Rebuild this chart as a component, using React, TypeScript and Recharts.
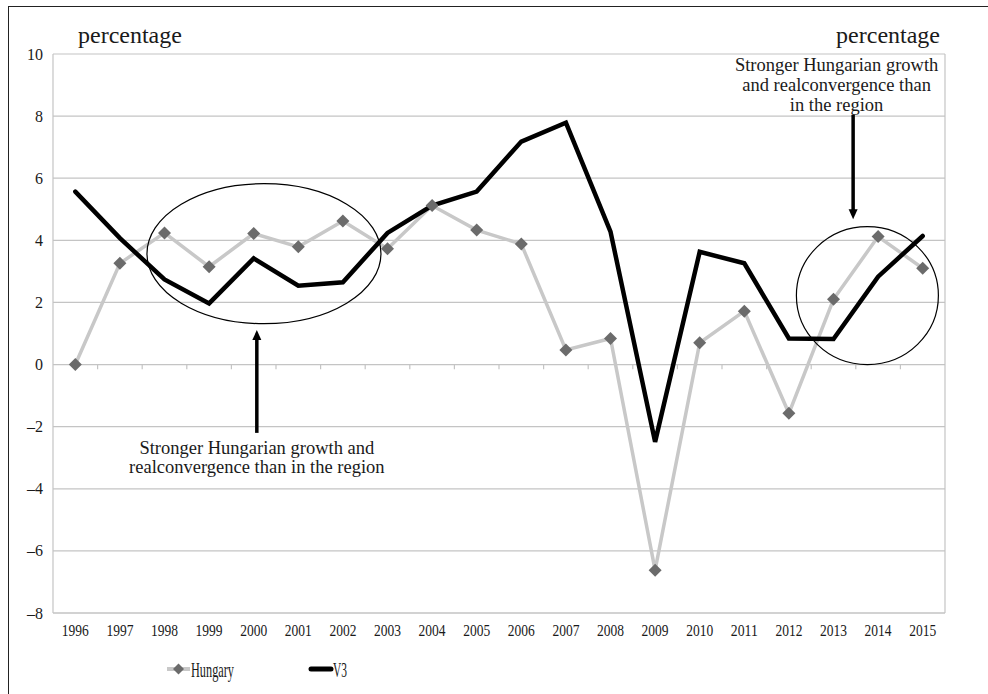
import React from 'react';
import {
  LineChart,
  Line,
  XAxis,
  YAxis,
  CartesianGrid,
  Legend,
  ReferenceDot,
  ReferenceLine,
} from 'recharts';

// ---- data ----
const years = [1996, 1997, 1998, 1999, 2000, 2001, 2002, 2003, 2004, 2005, 2006, 2007, 2008, 2009, 2010, 2011, 2012, 2013, 2014, 2015];
const hungary = [0, 3.26, 4.24, 3.15, 4.22, 3.79, 4.62, 3.73, 5.12, 4.33, 3.88, 0.47, 0.84, -6.62, 0.7, 1.72, -1.57, 2.1, 4.12, 3.1];
const v3 = [5.57, 4.07, 2.74, 1.97, 3.42, 2.54, 2.65, 4.24, 5.12, 5.57, 7.18, 7.79, 4.28, -2.49, 3.63, 3.26, 0.84, 0.82, 2.83, 4.14];
const yTicks = [-8, -6, -4, -2, 0, 2, 4, 6, 8, 10];
const seriesNames = ['Hungary', 'V3'];
const unitLabel = 'percentage';
const note1 = ['Stronger Hungarian growth and', 'realconvergence than in the region'];
const note2 = ['Stronger Hungarian growth', 'and realconvergence than', 'in the region'];
const boundaries = years.slice(0, -1).map((y) => y + 0.5);

const data = years.map((year, i) => ({ year, Hungary: hungary[i], V3: v3[i] }));

const FONT = '"Liberation Serif", "Times New Roman", serif';
const TEXT = '#1a1a1a';
const GRID = '#c4c4c4';
const HUN_LINE = '#c8c8c8';
const HUN_MARK = '#6b6b6b';

const fmt = (v: number) => (v < 0 ? '\u2013' + Math.abs(v) : String(v));

const LeftTick = (props: any) => {
  const { x, y, payload } = props;
  return (
    <text x={x} y={y} dy="0.35em" textAnchor="end" fontFamily={FONT} fontSize={16} fill={TEXT}>
      {fmt(payload.value)}
    </text>
  );
};

const RightTick = (props: any) => {
  const { x, y, payload } = props;
  return (
    <text x={x + 23} y={y} dy="0.35em" textAnchor="end" fontFamily={FONT} fontSize={16} fill={TEXT}>
      {fmt(payload.value)}
    </text>
  );
};

const YearTick = (props: any) => {
  const { x, y, payload } = props;
  return (
    <text
      x={x}
      y={y + 23}
      textAnchor="middle"
      fontFamily={FONT}
      fontSize={16.5}
      fill={TEXT}
      textLength={27}
      lengthAdjust="spacingAndGlyphs"
    >
      {payload.value}
    </text>
  );
};

const Diamond = (props: any) => {
  const { cx, cy } = props;
  if (cx == null || cy == null) return null;
  const s = 6.5;
  return (
    <polygon
      key={`d-${cx}`}
      points={`${cx},${cy - s} ${cx + s},${cy} ${cx},${cy + s} ${cx - s},${cy}`}
      fill={HUN_MARK}
    />
  );
};

const Arrow = (props: any) => {
  const { x1, y1, x2, y2 } = props;
  const dir = Math.sign(y2 - y1) || 1;
  return (
    <g>
      <line x1={x1} y1={y1} x2={x2} y2={y2 - dir * 7} stroke="#000" strokeWidth={3.5} />
      <polygon points={`${x2},${y2} ${x2 - 4.5},${y2 - dir * 10} ${x2 + 4.5},${y2 - dir * 10}`} fill="#000" />
    </g>
  );
};

const ellipseShape = (rx: number, ry: number) => (props: any) => (
  <ellipse cx={props.cx} cy={props.cy} rx={rx} ry={ry} fill="none" stroke="#000" strokeWidth={1.2} />
);

const textShape = (lines: string[], dyStart: number, step: number) => (props: any) => (
  <text x={props.cx} y={props.cy} textAnchor="middle" fontFamily={FONT} fontSize={18.5} fill={TEXT}>
    {lines.map((l, i) => (
      <tspan key={i} x={props.cx} y={props.cy + dyStart + i * step}>
        {l}
      </tspan>
    ))}
  </text>
);

const unitShape = (dx: number, anchor: 'start' | 'end') => (props: any) => (
  <text x={props.cx + dx} y={props.cy - 11} textAnchor={anchor} fontFamily={FONT} fontSize={24} fill={TEXT}>
    {unitLabel}
  </text>
);

const renderLegend = () => (
  <svg width={988} height={30} style={{ display: 'block' }}>
    <line x1={167} x2={190} y1={12} y2={12} stroke={HUN_LINE} strokeWidth={4} />
    <polygon points="178.5,6.5 184,12 178.5,17.5 173,12" fill={HUN_MARK} />
    <text x={191} y={20} fontFamily={FONT} fontSize={21} fill={TEXT} textLength={43} lengthAdjust="spacingAndGlyphs">
      {seriesNames[0]}
    </text>
    <line x1={311} x2={331} y1={12} y2={12} stroke="#000" strokeWidth={5} strokeLinecap="round" />
    <text x={333} y={20} fontFamily={FONT} fontSize={21} fill={TEXT} textLength={14} lengthAdjust="spacingAndGlyphs">
      {seriesNames[1]}
    </text>
  </svg>
);

export default function App() {
  return (
    <div style={{ position: 'absolute', left: 0, top: 0, width: 988, height: 694, overflow: 'hidden', background: '#fff' }}>
      <LineChart width={988} height={694} data={data} margin={{ top: 54, right: 0, left: 0, bottom: 7 }}>
        <CartesianGrid yAxisId="left" vertical={false} stroke={GRID} strokeWidth={1.2} />
        <XAxis
          dataKey="year"
          type="number"
          domain={[1995.5, 2015.5]}
          ticks={years}
          interval={0}
          allowDataOverflow
          height={44}
          tickSize={0}
          tickMargin={0}
          tickLine={false}
          axisLine={{ stroke: GRID, strokeWidth: 1.2 }}
          tick={<YearTick />}
        />
        <YAxis
          yAxisId="left"
          orientation="left"
          width={53}
          domain={[-8, 10]}
          ticks={yTicks}
          interval={0}
          tickSize={0}
          tickMargin={10}
          tickLine={false}
          axisLine={{ stroke: GRID, strokeWidth: 1.2 }}
          tick={<LeftTick />}
        />
        <YAxis
          yAxisId="right"
          orientation="right"
          width={43}
          domain={[-8, 10]}
          ticks={yTicks}
          interval={0}
          tickSize={0}
          tickMargin={0}
          tickLine={false}
          axisLine={{ stroke: GRID, strokeWidth: 1.2 }}
          tick={<RightTick />}
        />
        {boundaries.map((b) => (
          <ReferenceLine
            key={b}
            yAxisId="left"
            segment={[{ x: b, y: 0 }, { x: b, y: -0.15 }]}
            stroke={GRID}
            strokeWidth={1.2}
          />
        ))}
        <Line
          yAxisId="left"
          dataKey="Hungary"
          name={seriesNames[0]}
          stroke={HUN_LINE}
          strokeWidth={3.5}
          dot={<Diamond />}
          activeDot={false}
          isAnimationActive={false}
        />
        <Line
          yAxisId="left"
          dataKey="V3"
          name={seriesNames[1]}
          stroke="#000"
          strokeWidth={4.5}
          strokeLinecap="round"
          dot={false}
          activeDot={false}
          isAnimationActive={false}
        />
        <ReferenceDot yAxisId="left" x={2000.23} y={3.57} r={1} shape={ellipseShape(117, 70)} />
        <ReferenceDot yAxisId="left" x={2013.76} y={2.22} r={1} shape={ellipseShape(71, 69)} />
        <ReferenceLine yAxisId="left" segment={[{ x: 2000.07, y: -2.2 }, { x: 2000.07, y: 1.11 }]} shape={<Arrow />} />
        <ReferenceLine yAxisId="left" segment={[{ x: 2013.44, y: 8.04 }, { x: 2013.44, y: 4.68 }]} shape={<Arrow />} />
        <ReferenceDot yAxisId="left" x={2000.07} y={-2.2} r={1} shape={textShape(note1, 21, 19)} />
        <ReferenceDot yAxisId="left" x={2013.07} y={8.04} r={1} shape={textShape(note2, -44, 20)} />
        <ReferenceDot yAxisId="left" x={1995.5} y={10} r={1} ifOverflow="visible" shape={unitShape(25, 'start')} />
        <ReferenceDot yAxisId="left" x={2015.5} y={10} r={1} ifOverflow="visible" shape={unitShape(-5, 'end')} />
        <Legend verticalAlign="bottom" content={renderLegend} wrapperStyle={{ left: 0, bottom: 7, width: 988, height: 30 }} />
      </LineChart>
      <div
        style={{
          position: 'absolute',
          left: 8,
          top: 6,
          width: 1000,
          height: 700,
          border: '1.5px solid #222',
          pointerEvents: 'none',
        }}
      />
    </div>
  );
}
